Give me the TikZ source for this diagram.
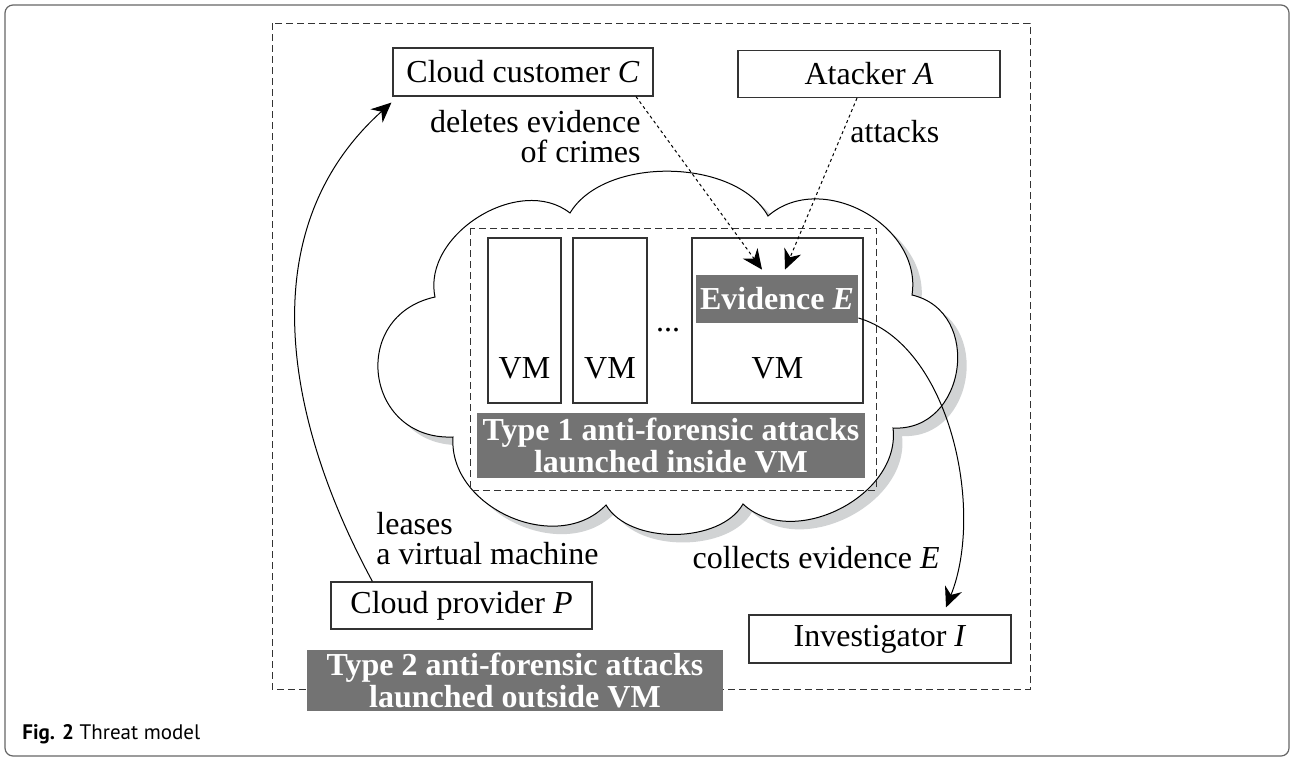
\documentclass[tikz,border=0pt]{standalone}
\usepackage{fontspec}
\setmainfont{LiberationSerif}[Extension=.ttf, UprightFont=*-Regular, BoldFont=*-Bold,
  ItalicFont=*-Italic, BoldItalicFont=*-BoldItalic]
\newfontfamily\capfont{PT Sans}
\usetikzlibrary{arrows.meta,calc}
\usetikzlibrary{positioning}

\definecolor{boxgray}{HTML}{737373}
\definecolor{shadowgray}{HTML}{D1D3D4}
\definecolor{linegray}{HTML}{333333}
\definecolor{framegray}{HTML}{666666}

\tikzset{
  actor/.style={draw=linegray, line width=0.6pt, inner sep=0pt, minimum height=24pt},
  vmbox/.style={draw=linegray, line width=0.6pt, inner sep=0pt, minimum height=82.5pt},
  darkbox/.style={fill=boxgray, text=white, inner sep=0pt, align=center,
    font=\fontsize{16}{13.5}\selectfont\bfseries},
  lbl/.style={inner sep=0pt, font=\fontsize{16}{15}\selectfont},
  dashframe/.style={draw=linegray, line width=0.5pt, dash pattern=on 3.5pt off 2pt},
  dotarrow/.style={-{Stealth[length=10pt,width=9pt]}, line width=0.5pt, dash pattern=on 1.5pt off 1.5pt},
  solidarrow/.style={-{Stealth[length=10pt,width=9pt]}, line width=0.5pt}
}

% one cloud outline, used for the shadow and for the cloud
\newcommand\cloudoutline{(435,297) to[bend left=70,looseness=1.03] (570,213)
  to[bend left=60,looseness=0.86] (768,216) to[bend left=70,looseness=1.1] (912,295)
  to[bend left=85,looseness=1.4] (893,428) to[bend left=70,looseness=1.04] (743,504)
  to[bend left=60,looseness=0.86] (606,505) to[bend left=70,looseness=1.08] (453,437)
  to[bend left=85,looseness=1.6] (435,297) -- cycle}

\begin{document}
\begin{tikzpicture}[x=0.5pt, y=-0.5pt, font=\fontsize{16}{19}\selectfont]
  \useasboundingbox (0,0) rectangle (1294,760);
  \draw[framegray, line width=0.6pt, rounded corners=4pt] (5,5) rectangle (1289,756);
  \draw[dashframe] (272,23) rectangle (1030,689);

  % the cloud
  \fill[shadowgray, shift={(9,8)}] \cloudoutline;
  \filldraw[fill=white, draw=black, line width=0.5pt] \cloudoutline;
  \draw[dashframe] (470,228) rectangle (876,490);

  \node[vmbox, minimum width=36.5pt] (vm1) at (524.5,320.5) {};
  \node[vmbox, minimum width=37pt]   (vm2) at (610,320.5) {};
  \node[vmbox, minimum width=85.5pt] (vm3) at (777.5,320.5) {};
  \node[anchor=base, inner sep=0pt] (vm1t) at (524.5,378) {VM};
  \node[anchor=base, inner sep=0pt] (vm2t) at (610,378) {VM};
  \node[anchor=base, inner sep=0pt] (vm3t) at (777.5,378) {VM};
  \node[anchor=base, inner sep=0pt] (dots) at (668,331) {...};

  \node[darkbox, minimum width=81pt, minimum height=24pt] (evid) at (777,299) {Evidence \textit{E}};
  \node[darkbox, minimum width=194pt, minimum height=32.5pt] (type1) at (671,445.5)
    {Type 1 anti-forensic attacks\\launched inside VM};

  % parties
  \node[actor, minimum width=130pt] (cust) at (523,72) {Cloud customer \textit{C}};
  \node[actor, minimum width=131pt, minimum height=23.5pt] (att) at (869,74) {Atacker \textit{A}};
  \node[actor, minimum width=130.5pt, minimum height=23.5pt] (prov) at (461.5,605.5) {Cloud provider \textit{P}};
  \node[actor, minimum width=131pt] (inv) at (880,639) {Investigator \textit{I}};

  \node[lbl, align=right, anchor=north east] (dellbl) at (641,110) {deletes evidence\\of crimes};
  \node[lbl, anchor=base west] (attlbl) at (850,142) {attacks};
  \node[lbl, align=left, anchor=north west] (leaselbl) at (376,512) {leases\\a virtual machine};
  \node[lbl, anchor=base east] (collbl) at (940,568) {collects evidence \textit{E}};

  \draw[solidarrow] ([xshift=21pt]prov.north west) .. controls (285,420) and (250,230) .. ([xshift=-0.5pt,yshift=-3pt]cust.south west);
  \draw[dotarrow] ([xshift=56.5pt]cust.south) -- ([xshift=-7.5pt,yshift=2.5pt]evid.north);
  \draw[dotarrow] ([xshift=-6pt]att.south) -- ([xshift=4pt,yshift=2.5pt]evid.north);
  \draw[solidarrow] ([yshift=-9.5pt]evid.east) .. controls (950,345) and (985,510) .. ([xshift=33pt,yshift=3.5pt]inv.north);

  \node[darkbox, minimum width=208pt, minimum height=30.5pt] (type2) at (515,680.5)
    {Type 2 anti-forensic attacks\\launched outside VM};

  \node[anchor=base west, inner sep=0pt, font=\capfont\fontsize{10.5}{12}\selectfont] (cap) at (22,739)
    {\textbf{Fig. 2} Threat model};
\end{tikzpicture}
\end{document}
